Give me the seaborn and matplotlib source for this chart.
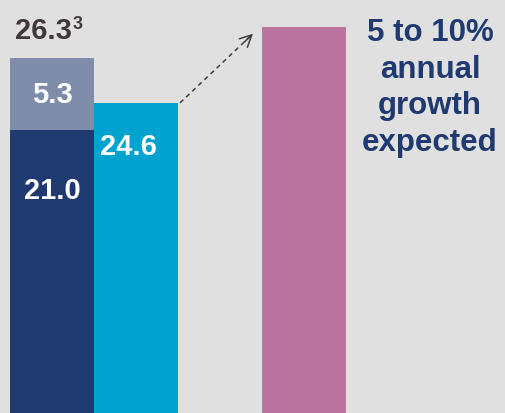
import matplotlib
matplotlib.use("Agg")
import matplotlib.pyplot as plt
import seaborn as sns

# ---- data ----
bar_names = ["past", "current", "spacer", "future"]
bar_heights = [26.3, 23.0, 0.0, 28.6]          # drawn heights
bar_colors = ["#7f8caa", "#00a2cf", "#e0e0e0", "#bb74a0"]
base_names = ["past"]
base_values = [21.0]
extra_value = 5.3
total_label = "26.3"
total_note = "3"
base_label = "21.0"
extra_label = "5.3"
current_label = "24.6"
growth_text = "5 to 10%\nannual\ngrowth\nexpected"

BG = "#e0e0e0"
NAVY = "#1e3a70"

sns.set_theme(style="white")
plt.rcParams["font.family"] = ["Liberation Sans", "DejaVu Sans"]

fig = plt.figure(figsize=(5.05, 4.13), dpi=100, facecolor=BG)
ax = fig.add_axes([0, 0, 1, 1])
ax.set_facecolor(BG)

sns.barplot(x=bar_names, y=bar_heights, hue=bar_names, palette=bar_colors,
            order=bar_names, hue_order=bar_names, width=1.0, saturation=1,
            legend=False, linewidth=0, ax=ax)
sns.barplot(x=base_names, y=base_values, order=bar_names, color=NAVY,
            width=1.0, saturation=1, linewidth=0, ax=ax)

ax.set_xlim(-0.619, 5.393)
ax.set_ylim(0, 30.63)
ax.axis("off")

bold = dict(fontweight="bold")
# labels
ax.text(0, base_values[0] + extra_value / 2 - 0.1, extra_label, ha="center", va="center",
        color="white", fontsize=21, **bold)
ax.text(0, base_values[0] - 4.5, base_label, ha="center", va="center",
        color="white", fontsize=21, **bold)
ax.text(0.905, bar_heights[1] - 3.3, current_label, ha="center", va="center",
        color="white", fontsize=21, **bold)
ax.text(0.238, bar_heights[0] + 2.0, total_label, ha="right", va="center",
        color="#403838", fontsize=21, **bold)
ax.text(0.245, bar_heights[0] + 2.5, total_note, ha="left", va="center",
        color="#403838", fontsize=13, **bold)

ax.text(4.5, 24.1, growth_text, ha="center", va="center", color=NAVY,
        fontsize=22.5, linespacing=1.3, **bold)

# dashed arrow
x0, y0 = 1.524, bar_heights[1]
x1, y1 = 2.393, 28.13
ax.plot([x0, x1], [y0, y1], color="#404040", lw=1.1, linestyle=(0, (3, 2.5)))
ax.annotate("", xy=(x1, y1), xytext=(x1 - 0.1, y1 - 0.6),
            arrowprops=dict(arrowstyle="->,head_length=0.7,head_width=0.35",
                            color="#404040", lw=1.1, shrinkA=0, shrinkB=0))

fig.savefig("out.png", dpi=100, facecolor=BG)
